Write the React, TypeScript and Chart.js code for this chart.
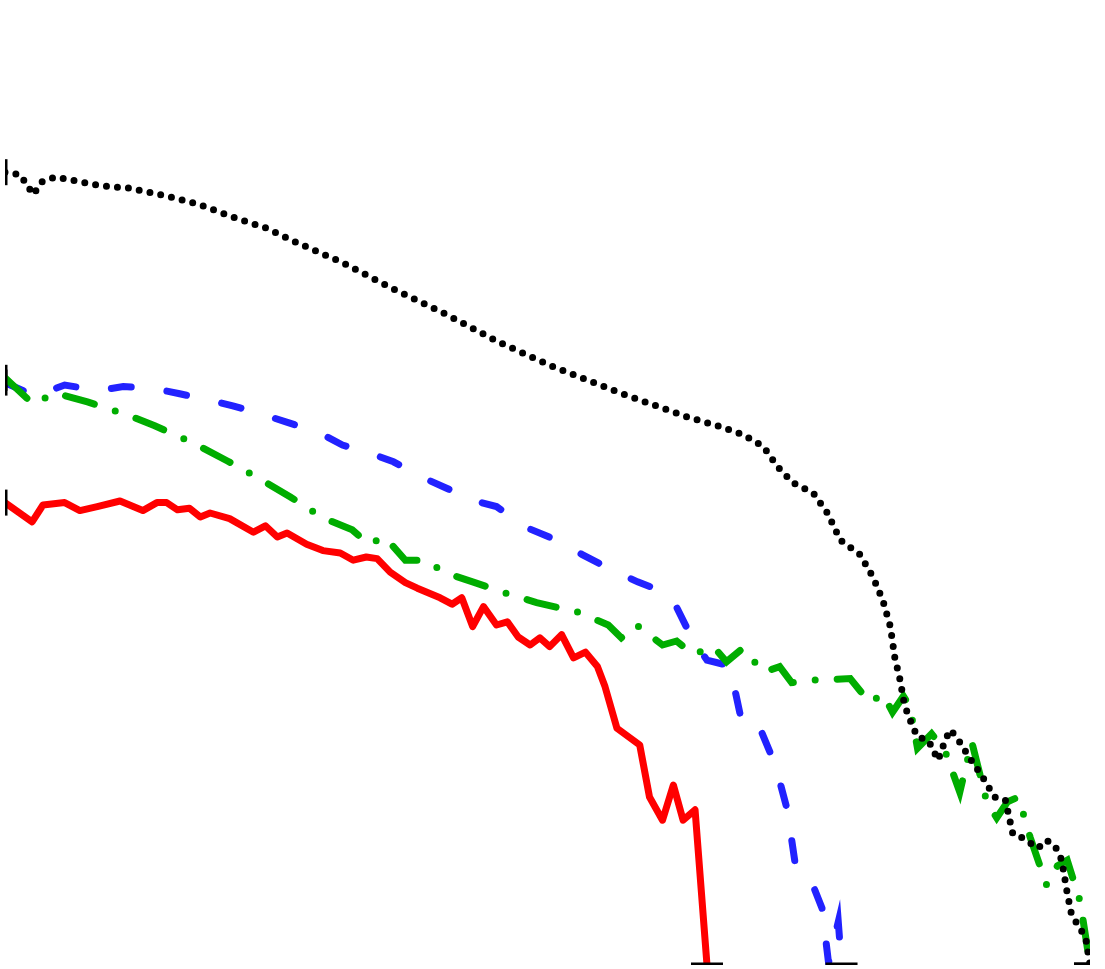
import React, { useEffect, useRef } from "react";
import Chart from "chart.js/auto";

// values (x: 0..100, y: 0..100)
const blackX = [0, 1.4, 2.6, 3.4, 4.6, 6.2, 8.8, 11.5, 13.6, 15.9, 18.0, 21.0, 24.1, 26.9, 31.1, 35.8, 40.7, 45.6, 50.5, 56.7, 62.9, 65.9, 68.0, 69.9, 71.2, 72.6, 74.5, 75.8, 77.0, 78.8, 80.0, 80.9, 81.6, 82.0, 82.5, 82.9, 83.6, 84.1, 85.1, 86.0, 86.6, 87.1, 87.7, 88.9, 90.1, 91.2, 92.2, 92.9, 93.8, 95.2, 96.0, 96.8, 97.4, 97.9, 98.3, 99.6, 100];
const blackY = [99.1, 98.8, 96.3, 97.9, 98.5, 98.1, 97.4, 97.1, 96.5, 95.8, 95.0, 93.5, 92.1, 90.3, 87.8, 84.5, 81.3, 77.8, 74.8, 71.5, 68.5, 67.3, 66.3, 64.8, 62.3, 60.3, 59.0, 56.5, 53.1, 51.3, 48.5, 45.6, 42.3, 38.5, 35.6, 32.5, 30.0, 28.5, 28.1, 25.6, 27.9, 29.4, 28.5, 25.9, 23.5, 21.0, 20.6, 16.3, 15.9, 14.6, 15.6, 14.8, 13.1, 9.0, 6.3, 3.4, 0];

const blueX = [0, 2.8, 5.5, 8.5, 10.9, 13.6, 16.1, 18.9, 21.0, 23.8, 26.1, 29.0, 31.1, 33.6, 35.8, 38.4, 40.7, 43.1, 45.3, 48.2, 50.5, 53.2, 55.6, 58.3, 60.4, 61.8, 63.4, 64.7, 66.8, 67.9, 69.4, 71.0, 72.1, 72.8, 74.2, 75.3, 75.9, 76.8, 77.1];
const blueY = [72.8, 71.1, 72.5, 71.8, 72.3, 72.1, 71.4, 70.6, 69.9, 68.8, 67.8, 66.5, 65.0, 64.0, 62.9, 61.0, 59.6, 58.1, 57.3, 54.6, 53.3, 51.3, 49.6, 47.9, 46.8, 45.0, 40.6, 38.1, 37.4, 30.4, 30.2, 25.0, 19.4, 12.9, 10.9, 7.1, 0.3, 5.4, 0];

const greenX = [0, 2.6, 4.6, 7.6, 11.2, 13.8, 17.3, 20.5, 23.7, 26.3, 29.3, 32.0, 33.5, 35.0, 36.9, 38.7, 40.6, 43.1, 46.1, 49.0, 52.8, 55.6, 56.8, 58.2, 60.6, 61.9, 63.4, 65.3, 66.5, 68.0, 69.9, 71.4, 72.5, 74.5, 77.9, 79.7, 80.9, 81.8, 82.8, 83.4, 84.1, 85.4, 86.6, 88.0, 89.1, 90.5, 91.4, 92.4, 93.4, 94.5, 96.0, 97.0, 97.9, 99.1, 100];
const greenY = [73.4, 70.1, 71.5, 70.4, 68.8, 67.4, 65.3, 63.0, 60.6, 58.5, 55.9, 54.4, 52.6, 53.5, 50.6, 50.6, 49.0, 47.9, 46.5, 45.3, 44.1, 42.5, 40.9, 42.5, 40.0, 40.5, 38.8, 39.8, 37.9, 39.6, 36.6, 37.3, 35.3, 35.6, 35.8, 32.8, 33.9, 31.6, 33.6, 32.3, 27.1, 28.9, 26.9, 21.6, 27.9, 20.3, 18.4, 20.4, 21.0, 15.9, 10.0, 12.4, 13.1, 7.9, 0];

const redX = [0, 2.5, 3.5, 5.5, 6.9, 8.5, 10.6, 12.7, 14.0, 14.9, 15.9, 17.0, 18.0, 18.9, 20.7, 22.9, 24.0, 25.1, 26.0, 27.8, 29.3, 30.9, 32.1, 33.3, 34.3, 35.5, 36.9, 38.0, 40.1, 41.2, 42.1, 43.1, 44.1, 45.3, 46.3, 47.3, 48.4, 49.3, 50.2, 51.3, 52.4, 53.5, 54.6, 55.3, 56.4, 58.5, 59.4, 60.6, 61.6, 62.5, 63.6, 64.7];
const redY = [57.8, 55.4, 57.5, 57.8, 56.8, 57.3, 58.0, 56.8, 57.8, 57.8, 56.9, 57.1, 56.0, 56.5, 55.8, 54.1, 54.9, 53.5, 54.0, 52.6, 51.8, 51.5, 50.6, 51.0, 50.8, 49.1, 47.8, 47.1, 45.9, 45.1, 45.9, 42.3, 44.8, 42.5, 42.9, 41.0, 40.0, 40.9, 39.8, 41.3, 38.4, 39.1, 37.3, 34.8, 29.6, 27.5, 21.0, 18.1, 22.5, 18.1, 19.4, 0];

const toPoints = (xs: number[], ys: number[]) => xs.map((x, i) => ({ x, y: ys[i] }));

// start of a series gets an upright bar, its end a flat bar
const endMarks = (n: number) => ({
  pointStyle: "line" as const,
  pointRadius: (c: any) => (c.dataIndex === 0 ? 13 : c.dataIndex === n - 1 ? 16 : 0),
  pointRotation: (c: any) => (c.dataIndex === 0 ? 90 : 0),
  pointBorderColor: "#000",
  pointBorderWidth: 5,
  pointHoverRadius: 0,
});

export default function App() {
  const chartRef = useRef<HTMLCanvasElement>(null);
  const chartInstance = useRef<Chart<"line"> | null>(null);

  useEffect(() => {
    if (!chartRef.current) return;
    const ctx = chartRef.current.getContext("2d");
    if (!ctx) return;
    if (chartInstance.current) chartInstance.current.destroy();

    chartInstance.current = new Chart(ctx, {
      type: "line",
      data: {
        datasets: [
          {
            label: "black",
            data: toPoints(blackX, blackY),
            borderColor: "#000000",
            borderWidth: 7,
            borderDash: [0, 11],
            borderCapStyle: "round",
            tension: 0,
            ...endMarks(blackX.length),
          },
          {
            label: "green",
            data: toPoints(greenX, greenY),
            borderColor: "#00ad00",
            borderWidth: 7,
            borderDash: [30, 22, 0, 22],
            borderCapStyle: "round",
            tension: 0,
            ...endMarks(greenX.length),
          },
          {
            label: "blue",
            data: toPoints(blueX, blueY),
            borderColor: "#2222ff",
            borderWidth: 7,
            borderDash: [20, 36],
            borderCapStyle: "round",
            tension: 0,
            ...endMarks(blueX.length),
          },
          {
            label: "red",
            data: toPoints(redX, redY),
            borderColor: "#ff0000",
            borderWidth: 7,
            borderJoinStyle: "round",
            tension: 0,
            ...endMarks(redX.length),
          },
        ],
      },
      options: {
        animation: false,
        responsive: true,
        maintainAspectRatio: false,
        scales: {
          x: { type: "linear", min: 0, max: 100, display: false },
          y: { type: "linear", min: 0, max: 120, display: false },
        },
        plugins: {
          legend: { display: false },
          tooltip: { enabled: false },
        },
      },
    });

    return () => {
      if (chartInstance.current) {
        chartInstance.current.destroy();
        chartInstance.current = null;
      }
    };
  }, []);

  // the end bars make Chart.js keep 21px around the plot, so the canvas
  // is a little larger than the window and shifted up-left
  return (
    <div style={{ position: "fixed", left: 0, top: 0, width: 1105, height: 969, overflow: "hidden", background: "#fff" }}>
      <div style={{ position: "absolute", left: -16, top: -16, width: 1127, height: 1002 }}>
        <canvas ref={chartRef} />
      </div>
    </div>
  );
}
